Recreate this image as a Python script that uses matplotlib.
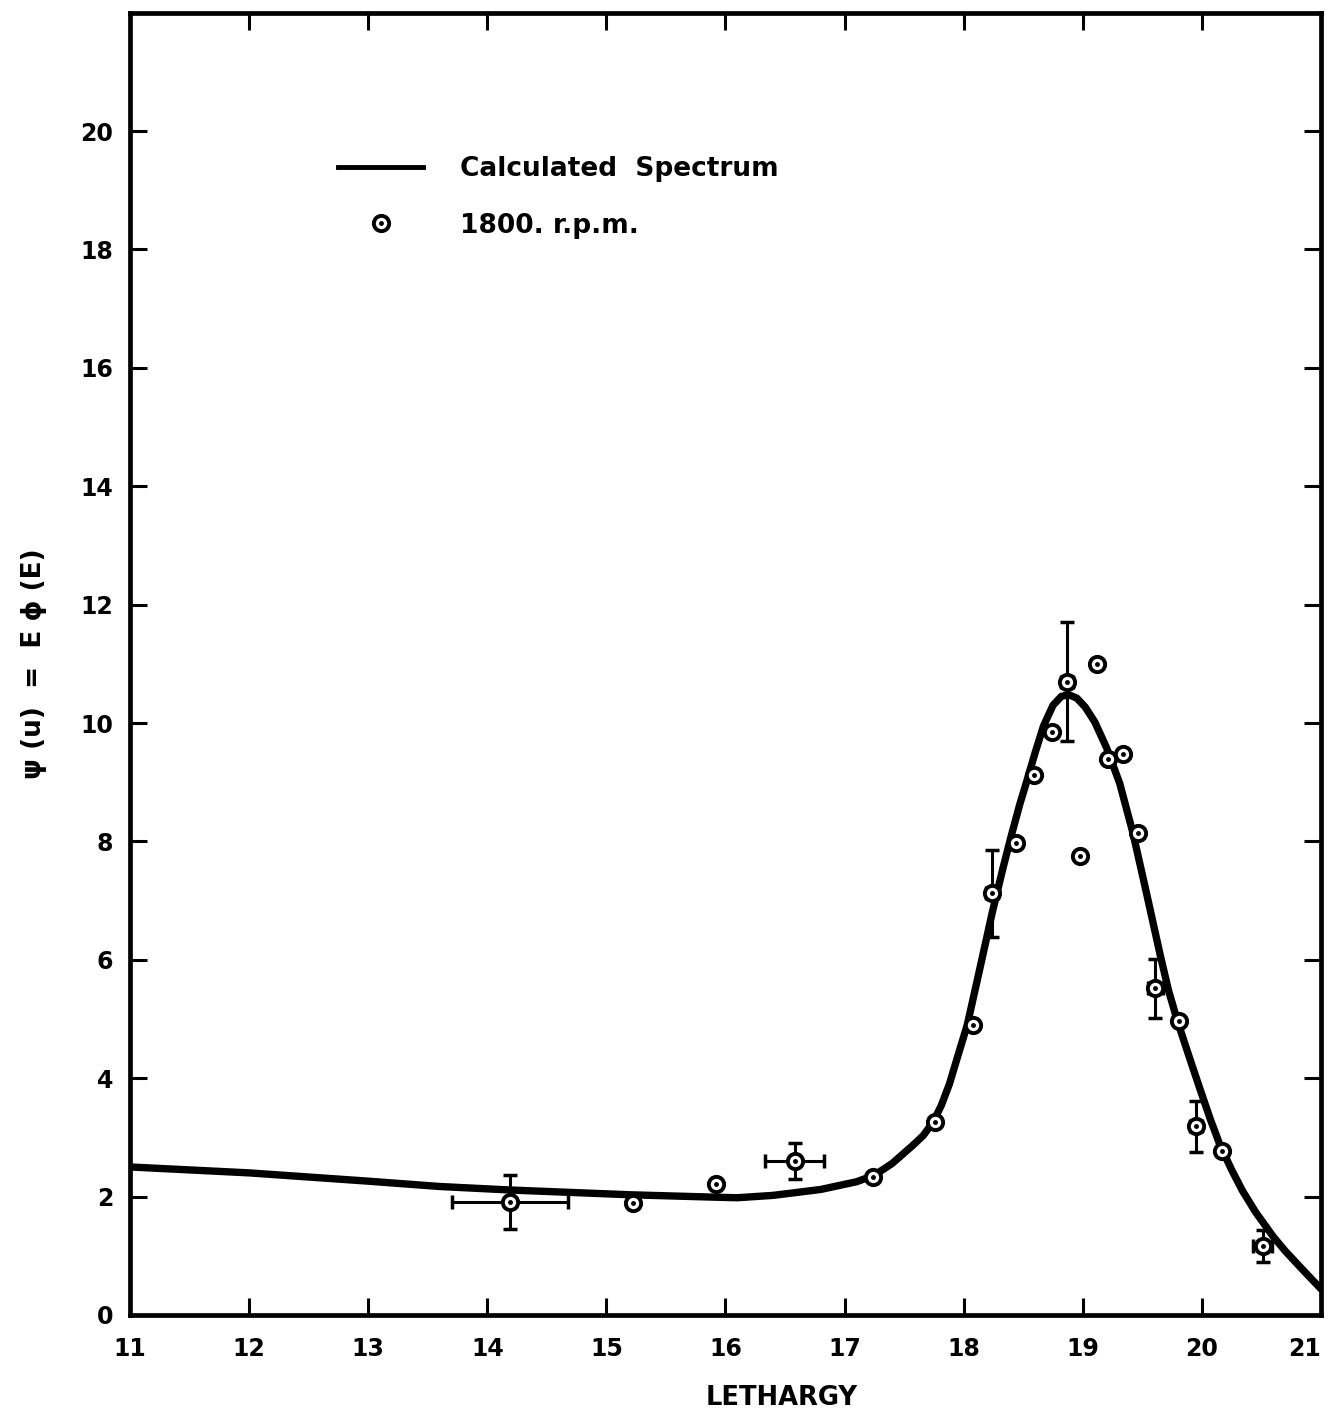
import numpy as np
import matplotlib.pyplot as plt
from matplotlib.lines import Line2D

# calculated spectrum (lethargy, psi)
curve_u = [11.0, 12.0, 13.0, 13.6, 14.2, 15.2, 15.9, 16.1, 16.4, 16.8, 17.1, 17.25,
           17.4, 17.57, 17.66, 17.74, 17.81, 17.88, 17.95, 18.03, 18.13, 18.24,
           18.33, 18.40, 18.47, 18.53, 18.60, 18.67, 18.75, 18.82, 18.88, 18.95,
           19.02, 19.10, 19.20, 19.31, 19.42, 19.54, 19.65, 19.72, 19.80, 19.90,
           19.98, 20.07, 20.15, 20.25, 20.34, 20.45, 20.60, 20.70, 20.82, 20.90, 21.0]
curve_psi = [2.50, 2.40, 2.26, 2.17, 2.11, 2.03, 1.99, 1.98, 2.02, 2.12, 2.25, 2.36,
             2.56, 2.86, 3.03, 3.25, 3.53, 3.90, 4.37, 4.90, 5.80, 6.80,
             7.55, 8.10, 8.62, 9.02, 9.50, 9.95, 10.30, 10.45, 10.48, 10.42,
             10.27, 10.02, 9.58, 8.98, 8.15, 7.08, 6.08, 5.48, 4.93, 4.32,
             3.84, 3.31, 2.88, 2.45, 2.10, 1.74, 1.32, 1.08, 0.82, 0.65, 0.44]

# measured points, 1800 rpm
meas_u = [14.19, 15.22, 15.92, 16.58, 17.24, 17.76, 18.08, 18.24, 18.44, 18.59, 18.74,
          18.87, 18.98, 19.12, 19.21, 19.34, 19.46, 19.61, 19.81, 19.95, 20.17, 20.51]
meas_psi = [1.91, 1.89, 2.21, 2.60, 2.33, 3.26, 4.89, 7.12, 7.97, 9.13, 9.84,
            10.70, 7.75, 11.00, 9.40, 9.47, 8.15, 5.52, 4.96, 3.19, 2.77, 1.16]

# points carrying error bars
err_u = [14.19, 16.58, 18.24, 18.87, 19.61, 19.95, 20.51]
err_psi = [1.91, 2.60, 7.12, 10.70, 5.52, 3.19, 1.16]
err_du = [0.49, 0.25, 0.05, 0.05, 0.06, 0.05, 0.08]
err_dpsi = [0.45, 0.31, 0.74, 1.00, 0.50, 0.43, 0.27]

x_ticks = list(range(11, 22))
y_ticks = list(range(0, 21, 2))

plt.rcParams['font.family'] = ['DejaVu Sans']
plt.rcParams['font.weight'] = 'bold'

fig = plt.figure(figsize=(13.33, 14.13), dpi=100)
ax = fig.add_axes([0.0975, 0.0694, 0.8935, 0.9216])

ax.plot(curve_u, curve_psi, color='black', lw=5.3, solid_capstyle='round',
        solid_joinstyle='round', zorder=2)

ax.errorbar(err_u, err_psi, xerr=err_du, yerr=err_dpsi, fmt='none',
            ecolor='black', elinewidth=2.2, capsize=5, capthick=2.5, zorder=3)

ax.plot(meas_u, meas_psi, ls='none', marker='o', ms=11, mfc='white', mec='black',
        mew=2.8, zorder=4)
ax.plot(meas_u, meas_psi, ls='none', marker='o', ms=2.5, mfc='black', mec='black',
        zorder=5)

ax.set_xlim(11, 21)
ax.set_ylim(0, 22)
ax.set_xticks(x_ticks)
ax.set_yticks(y_ticks)
ax.set_xticklabels([str(t) for t in x_ticks], fontsize=17, fontweight='bold')
ax.set_yticklabels([str(t) for t in y_ticks], fontsize=17, fontweight='bold')
ax.tick_params(axis='both', direction='in', length=12, width=2.2,
               top=True, right=True)
ax.tick_params(axis='x', pad=16)
ax.tick_params(axis='y', pad=12)
# last label sits flush against the right edge
ax.get_xticklabels()[-1].set_horizontalalignment('right')

for sp in ax.spines.values():
    sp.set_linewidth(3.4)

ax.set_xlabel('LETHARGY', fontsize=18.5, fontweight='bold', labelpad=17, x=0.547)
ax.set_ylabel('ψ (u)  =  E ϕ (E)', fontsize=19, fontweight='bold', labelpad=24)

handles = [
    Line2D([], [], color='black', lw=3.5),
    (Line2D([], [], ls='none', marker='o', ms=11, mfc='white', mec='black', mew=2.8),
     Line2D([], [], ls='none', marker='o', ms=2.5, mfc='black', mec='black')),
]
ax.legend(handles, ['Calculated  Spectrum', '1800. r.p.m.'],
          loc='upper left', bbox_to_anchor=(0.155, 0.908), frameon=False,
          prop={'size': 19, 'weight': 'bold'}, handlelength=3.2,
          handletextpad=1.4, labelspacing=1.15)

fig.savefig('out.png', dpi=100)
